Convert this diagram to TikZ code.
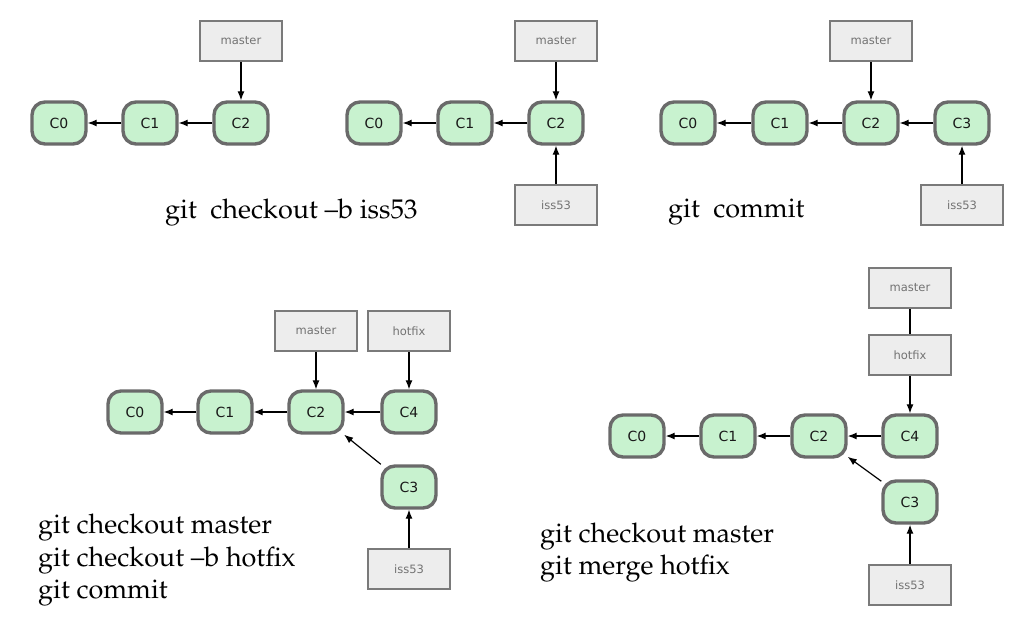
\documentclass[tikz,border=0pt]{standalone}
\usepackage[T1]{fontenc}
\usepackage{fontspec}
\usetikzlibrary{arrows.meta}
\newfontfamily\labelfont{DejaVu Sans}
\newcommand\cmdfont{\fontencoding{T1}\fontfamily{ppl}\fontsize{27}{32}\selectfont}

\definecolor{commitfill}{HTML}{C8F2CF}
\definecolor{commitline}{HTML}{6A6A6A}
\definecolor{branchfill}{HTML}{EDEDED}
\definecolor{branchline}{HTML}{7A7A7A}

\tikzset{
    commit/.style={draw=commitline, line width=3.4pt, fill=commitfill, rounded corners=13pt,
        minimum width=54pt, minimum height=42pt, inner sep=0pt,
        font=\labelfont\fontsize{14}{14}\selectfont, text=black!90},
    branch/.style={draw=branchline, line width=2.4pt, fill=branchfill,
        minimum width=81.5pt, minimum height=40.5pt, inner sep=0pt,
        font=\labelfont\fontsize{11.5}{12}\selectfont, text=black!55},
    parent/.style={-{Latex[length=9pt,width=7pt]}, line width=1.2pt},
    cmd/.style={font=\cmdfont, anchor=base west, inner sep=0pt}
}

\begin{document}
\begin{tikzpicture}[x=1pt,y=-1pt]
    \useasboundingbox (0,0) rectangle (1011,633);
    \pgfmathsetmacro{\rowa}{123}
    \pgfmathsetmacro{\rowb}{412}
    \pgfmathsetmacro{\rowc}{436}

    % top left
    \node[commit] (aC0) at (59,\rowa) {C0};
    \node[commit] (aC1) at (150,\rowa) {C1};
    \node[commit] (aC2) at (241,\rowa) {C2};
    \node[branch] (aMaster) at (241,41) {master};
    \draw[parent] (aC1) -- (aC0);
    \draw[parent] (aC2) -- (aC1);
    \draw[parent] (aMaster) -- (aC2);
    \node[cmd] (aCmd) at (165,218) {git\ \ checkout --b iss53};

    % top middle
    \node[commit] (bC0) at (374,\rowa) {C0};
    \node[commit] (bC1) at (465,\rowa) {C1};
    \node[commit] (bC2) at (556,\rowa) {C2};
    \node[branch] (bMaster) at (556,41) {master};
    \node[branch] (bIss) at (556,205) {iss53};
    \draw[parent] (bC1) -- (bC0);
    \draw[parent] (bC2) -- (bC1);
    \draw[parent] (bMaster) -- (bC2);
    \draw[parent] (bIss) -- (bC2);

    % top right
    \node[commit] (cC0) at (688,\rowa) {C0};
    \node[commit] (cC1) at (780,\rowa) {C1};
    \node[commit] (cC2) at (871,\rowa) {C2};
    \node[commit] (cC3) at (962,\rowa) {C3};
    \node[branch] (cMaster) at (871,41) {master};
    \node[branch] (cIss) at (962,205) {iss53};
    \draw[parent] (cC1) -- (cC0);
    \draw[parent] (cC2) -- (cC1);
    \draw[parent] (cC3) -- (cC2);
    \draw[parent] (cMaster) -- (cC2);
    \draw[parent] (cIss) -- (cC3);
    \node[cmd] (cCmd) at (668,217) {git\ \ commit};

    % bottom left
    \node[commit] (dC0) at (135,\rowb) {C0};
    \node[commit] (dC1) at (225,\rowb) {C1};
    \node[commit] (dC2) at (316,\rowb) {C2};
    \node[commit] (dC4) at (409,\rowb) {C4};
    \node[commit] (dC3) at (409,487) {C3};
    \node[branch] (dMaster) at (316,331) {master};
    \node[branch] (dHotfix) at (409,331) {hotfix};
    \node[branch] (dIss) at (409,569) {iss53};
    \draw[parent] (dC1) -- (dC0);
    \draw[parent] (dC2) -- (dC1);
    \draw[parent] (dC4) -- (dC2);
    \draw[parent] (dC3) -- (dC2);
    \draw[parent] (dMaster) -- (dC2);
    \draw[parent] (dHotfix) -- (dC4);
    \draw[parent] (dIss) -- (dC3);
    \node[cmd] (dCmdA) at (38,533) {git checkout master};
    \node[cmd] (dCmdB) at (38,566) {git checkout --b hotfix};
    \node[cmd] (dCmdC) at (38,598) {git commit};

    % bottom right
    \node[commit] (eC0) at (637,\rowc) {C0};
    \node[commit] (eC1) at (728,\rowc) {C1};
    \node[commit] (eC2) at (819,\rowc) {C2};
    \node[commit] (eC4) at (910,\rowc) {C4};
    \node[commit] (eC3) at (910,502) {C3};
    \node[branch] (eMaster) at (910,288) {master};
    \node[branch] (eHotfix) at (910,355) {hotfix};
    \node[branch] (eIss) at (910,585) {iss53};
    \draw[parent] (eC1) -- (eC0);
    \draw[parent] (eC2) -- (eC1);
    \draw[parent] (eC4) -- (eC2);
    \draw[parent] (eC3) -- (eC2);
    \draw[line width=1.2pt] (eMaster) -- (eHotfix);
    \draw[parent] (eHotfix) -- (eC4);
    \draw[parent] (eIss) -- (eC3);
    \node[cmd] (eCmdA) at (540,542) {git checkout master};
    \node[cmd] (eCmdB) at (540,574) {git merge hotfix};

\end{tikzpicture}
\end{document}
